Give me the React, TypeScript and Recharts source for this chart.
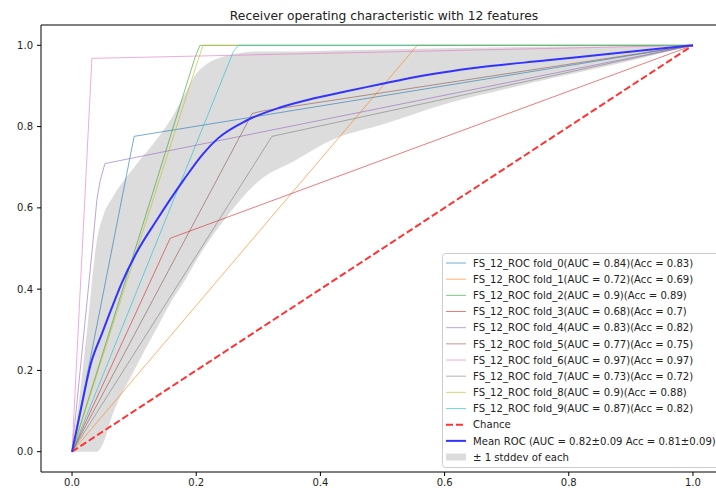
import React from 'react';
import { ComposedChart, Line, Area, XAxis, YAxis, ReferenceLine } from 'recharts';

// ---------- data ----------
const TICKS = [0, 0.2, 0.4, 0.6, 0.8, 1.0];

const fold0Fpr = [0, 0.1, 1];
const fold0Tpr = [0, 0.776, 1];
const fold1Fpr = [0, 0.556, 1];
const fold1Tpr = [0, 1, 1];
const fold2Fpr = [0, 0.198, 0.206, 1];
const fold2Tpr = [0, 0.97, 1, 1];
const fold3Fpr = [0, 0.158, 1];
const fold3Tpr = [0, 0.525, 1];
const fold4Fpr = [0, 0.032, 0.04, 0.045, 0.053, 1];
const fold4Tpr = [0, 0.49, 0.62, 0.665, 0.709, 1];
const fold5Fpr = [0, 0.29, 0.305, 1];
const fold5Tpr = [0, 0.832, 0.838, 1];
const fold6Fpr = [0, 0.032, 1];
const fold6Tpr = [0, 0.968, 1];
const fold7Fpr = [0, 0.322, 1];
const fold7Tpr = [0, 0.776, 1];
const fold8Fpr = [0, 0.2, 0.211, 1];
const fold8Tpr = [0, 0.95, 1, 1];
const fold9Fpr = [0, 0.26, 0.268, 1];
const fold9Tpr = [0, 0.985, 1, 1];

const chanceFpr = [0, 1];
const chanceTpr = [0, 1];

const meanFpr = [0, 0.015, 0.03, 0.048, 0.063, 0.08, 0.104, 0.136, 0.179, 0.211, 0.235, 0.281, 0.335, 0.388, 0.442, 0.496, 0.549, 0.657, 0.765, 0.871, 1];
const meanTpr = [0, 0.11, 0.215, 0.29, 0.35, 0.415, 0.49, 0.569, 0.667, 0.733, 0.771, 0.815, 0.847, 0.869, 0.887, 0.904, 0.921, 0.946, 0.963, 0.98, 1];

const bandFpr = [0, 0.01, 0.025, 0.04, 0.05, 0.065, 0.1, 0.142, 0.16, 0.185, 0.2, 0.25, 0.3, 0.36, 0.42, 0.5, 0.6, 0.7, 0.8, 0.9, 1];
const bandUpper = [0, 0.11, 0.31, 0.52, 0.58, 0.625, 0.7, 0.78, 0.82, 0.89, 0.93, 0.975, 0.985, 0.985, 0.987, 0.99, 0.993, 0.995, 0.997, 0.998, 1];
const bandLower = [0, 0, 0, 0, 0.02, 0.09, 0.2, 0.32, 0.37, 0.43, 0.47, 0.58, 0.665, 0.717, 0.768, 0.805, 0.855, 0.893, 0.928, 0.962, 1];

const foldLabels = [
  'FS_12_ROC fold_0(AUC = 0.84)(Acc = 0.83)',
  'FS_12_ROC fold_1(AUC = 0.72)(Acc = 0.69)',
  'FS_12_ROC fold_2(AUC = 0.9)(Acc = 0.89)',
  'FS_12_ROC fold_3(AUC = 0.68)(Acc = 0.7)',
  'FS_12_ROC fold_4(AUC = 0.83)(Acc = 0.82)',
  'FS_12_ROC fold_5(AUC = 0.77)(Acc = 0.75)',
  'FS_12_ROC fold_6(AUC = 0.97)(Acc = 0.97)',
  'FS_12_ROC fold_7(AUC = 0.73)(Acc = 0.72)',
  'FS_12_ROC fold_8(AUC = 0.9)(Acc = 0.88)',
  'FS_12_ROC fold_9(AUC = 0.87)(Acc = 0.82)',
];
const chanceLabel = 'Chance';
const meanLabel = 'Mean ROC (AUC = 0.82\u00b10.09 Acc = 0.81\u00b10.09)';
const bandLabel = '\u00b1 1 stddev of each';
const titleText = 'Receiver operating characteristic with 12 features';

// ---------- styling ----------
const FOLD_COLORS = ['#1f77b4', '#ff7f0e', '#2ca02c', '#d62728', '#9467bd', '#8c564b', '#e377c2', '#7f7f7f', '#bcbd22', '#17becf'];
const FOLD_OPACITY = 0.6;
const FONT = '"DejaVu Sans", sans-serif';
const CHANCE_COLOR = '#ff3333';
const MEAN_COLOR = '#3333ff';
const BAND_COLOR = '#dcdcdc';

const toPts = (xs: number[], ys: number[]) => xs.map((x, i) => ({ x, y: ys[i] }));

const folds = [
  toPts(fold0Fpr, fold0Tpr),
  toPts(fold1Fpr, fold1Tpr),
  toPts(fold2Fpr, fold2Tpr),
  toPts(fold3Fpr, fold3Tpr),
  toPts(fold4Fpr, fold4Tpr),
  toPts(fold5Fpr, fold5Tpr),
  toPts(fold6Fpr, fold6Tpr),
  toPts(fold7Fpr, fold7Tpr),
  toPts(fold8Fpr, fold8Tpr),
  toPts(fold9Fpr, fold9Tpr),
];
const chanceData = toPts(chanceFpr, chanceTpr);
const meanData = toPts(meanFpr, meanTpr);
const bandData = bandFpr.map((x, i) => ({ x, band: [bandLower[i], bandUpper[i]] }));

const LEG_LEFT = 442;
const LEG_TOP = 253;
const ROW0 = 263;
const ROW_STEP = 16.17;

function LegendOverlay() {
  const rows: React.ReactNode[] = [];
  const all = [...foldLabels, chanceLabel, meanLabel, bandLabel];
  all.forEach((label, i) => {
    const cy = ROW0 + i * ROW_STEP;
    let handle: React.ReactNode;
    if (i < 10) {
      handle = <line x1={446} x2={466} y1={cy} y2={cy} stroke={FOLD_COLORS[i]} strokeOpacity={FOLD_OPACITY} strokeWidth={1} />;
    } else if (i === 10) {
      handle = <line x1={446} x2={466} y1={cy} y2={cy} stroke={CHANCE_COLOR} strokeWidth={2} strokeDasharray="7 3" />;
    } else if (i === 11) {
      handle = <line x1={446} x2={466} y1={cy} y2={cy} stroke={MEAN_COLOR} strokeWidth={2} />;
    } else {
      handle = <rect x={446} y={cy - 3.5} width={20} height={7} fill={BAND_COLOR} />;
    }
    rows.push(
      <g key={i}>
        {handle}
        <text x={473} y={cy + 3.7} fontFamily={FONT} fontSize={10.1} fill="#222">{label}</text>
      </g>
    );
  });
  return (
    <svg width={716} height={488} style={{ position: 'absolute', left: 0, top: 0, pointerEvents: 'none' }}>
      <text x={384} y={19.5} textAnchor="middle" fontFamily={FONT} fontSize={12.3} fill="#222">{titleText}</text>
      <rect x={LEG_LEFT + 0.5} y={LEG_TOP + 0.5} width={300} height={214} rx={3} fill="#ffffff" fillOpacity={0.85} stroke="#cccccc" />
      {rows}
    </svg>
  );
}

export default function App() {
  return (
    <div style={{ position: 'fixed', left: 0, top: 0, width: 716, height: 488, overflow: 'hidden', background: '#fff' }}>
      <ComposedChart
        width={760}
        height={488}
        data={bandData}
        margin={{ top: 25, right: 36, bottom: 0, left: 0 }}
        style={{ fontFamily: FONT }}
      >
        <XAxis
          dataKey="x"
          type="number"
          domain={[-0.05, 1.05]}
          allowDataOverflow
          ticks={TICKS}
          tickFormatter={(v: number) => v.toFixed(1)}
          height={16}
          tickSize={4}
          tickMargin={3}
          stroke="#000"
          tick={{ fill: '#222', fontSize: 10, fontFamily: FONT }}
        />
        <YAxis
          type="number"
          domain={[-0.05, 1.05]}
          allowDataOverflow
          ticks={TICKS}
          tickFormatter={(v: number) => v.toFixed(1)}
          width={41}
          tickSize={4}
          tickMargin={4}
          stroke="#000"
          tick={{ fill: '#222', fontSize: 10, fontFamily: FONT }}
        />
        <ReferenceLine y={1.05} stroke="#000" strokeWidth={1} ifOverflow="visible" />
        <ReferenceLine x={1.05} stroke="#000" strokeWidth={1} ifOverflow="visible" />
        <Area
          dataKey="band"
          type="monotone"
          stroke="none"
          fill={BAND_COLOR}
          fillOpacity={1}
          isAnimationActive={false}
          legendType="none"
        />
        {folds.map((d, i) => (
          <Line
            key={i}
            data={d}
            dataKey="y"
            type="linear"
            stroke={FOLD_COLORS[i]}
            strokeOpacity={FOLD_OPACITY}
            strokeWidth={1}
            dot={false}
            activeDot={false}
            isAnimationActive={false}
            legendType="none"
          />
        ))}
        <Line
          data={chanceData}
          dataKey="y"
          type="linear"
          stroke={CHANCE_COLOR}
          strokeWidth={2}
          strokeDasharray="7 3"
          dot={false}
          activeDot={false}
          isAnimationActive={false}
        />
        <Line
          data={meanData}
          dataKey="y"
          type="monotone"
          stroke={MEAN_COLOR}
          strokeWidth={2}
          dot={false}
          activeDot={false}
          isAnimationActive={false}
        />
      </ComposedChart>
      <LegendOverlay />
    </div>
  );
}
